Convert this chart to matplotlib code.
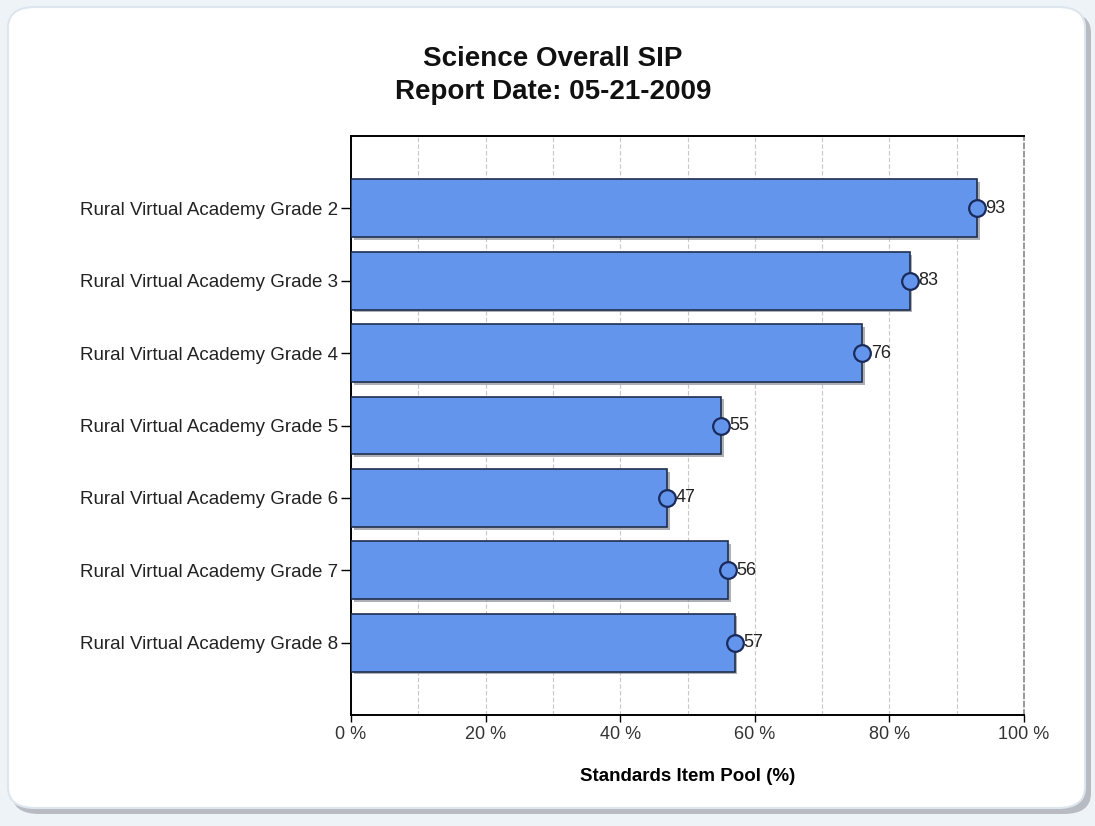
import matplotlib
matplotlib.use("Agg")
import matplotlib.pyplot as plt
from matplotlib.patches import FancyBboxPatch
import matplotlib.patheffects as pe

plt.rcParams['font.family'] = ['Liberation Sans', 'DejaVu Sans']

categories = ["Rural Virtual Academy Grade 2", "Rural Virtual Academy Grade 3",
              "Rural Virtual Academy Grade 4", "Rural Virtual Academy Grade 5",
              "Rural Virtual Academy Grade 6", "Rural Virtual Academy Grade 7",
              "Rural Virtual Academy Grade 8"]
values = [93, 83, 76, 55, 47, 56, 57]
xticks = [0, 20, 40, 60, 80, 100]
xticklabels = ["0 %", "20 %", "40 %", "60 %", "80 %", "100 %"]

W, H = 1095, 826
fig = plt.figure(figsize=(W/100, H/100), dpi=100)
fig.patch.set_facecolor('#eef3f8')

# panel with shadow
shadow = FancyBboxPatch((12/W, 12/H), (W-16)/W, (H-24)/H,
                        boxstyle="round,pad=0,rounding_size=0.025",
                        transform=fig.transFigure, facecolor='#b8bcc2',
                        edgecolor='none', zorder=-2)
fig.patches.append(shadow)
panel = FancyBboxPatch((8/W, 18/H), (W-18)/W, (H-25)/H,
                       boxstyle="round,pad=0,rounding_size=0.025",
                       transform=fig.transFigure, facecolor='white',
                       edgecolor='#dde6ee', linewidth=1.5, zorder=-1)
fig.patches.append(panel)

ax = fig.add_axes([351/W, 1-715/H, (1024-351)/W, (715-136)/H])
ax.set_facecolor('none')

y = list(range(len(categories)))
bars = ax.barh(y, values, height=0.8, color='#6495ED', edgecolor='#1f2f4f',
               linewidth=1.2, zorder=3)
for b in bars:
    b.set_path_effects([pe.SimplePatchShadow(offset=(2, -2), shadow_rgbFace='#8a8f99', alpha=0.7),
                        pe.Normal()])
ax.plot(values, y, 'o', markersize=12, markerfacecolor='#6495ED',
        markeredgecolor='#1a2a5a', markeredgewidth=1.6, zorder=4, linestyle='none')
for v, yy in zip(values, y):
    ax.annotate(str(v), (v, yy), xytext=(6, 0), textcoords='offset points',
                va='center', ha='left', fontsize=13, color='#222222', zorder=5)

ax.set_xlim(0, 100)
ax.set_ylim(7, -1)
ax.set_yticks(y)
ax.set_yticklabels(categories, fontsize=13.5, color='#222222')
ax.set_xticks(xticks)
ax.set_xticklabels(xticklabels, fontsize=13, color='#333333')
ax.set_xticks(range(10, 100, 20), minor=True)
ax.tick_params(axis='x', which='minor', length=0)
ax.tick_params(axis='x', which='major', length=5, width=1, direction='out', pad=3)
ax.tick_params(axis='y', length=7, width=1, direction='out', pad=2)
ax.grid(axis='x', which='both', color='#c8c8c8', linestyle=(0, (4, 2)), linewidth=0.8, zorder=0)
ax.set_axisbelow(True)
for s in ['top', 'left', 'bottom']:
    ax.spines[s].set_color('black')
    ax.spines[s].set_linewidth(1.4)
ax.spines['right'].set_color('#888888')
ax.spines['right'].set_linestyle((0, (3, 2)))
ax.spines['right'].set_linewidth(1.2)

ax.set_xlabel("Standards Item Pool (%)", fontsize=13.5, fontweight='bold', labelpad=18)

fig.text(553/W, 1-59/H, "Science Overall SIP", ha='center', va='center',
         fontsize=20, fontweight='bold', color='#111111')
fig.text(553/W, 1-92/H, "Report Date: 05-21-2009", ha='center', va='center',
         fontsize=20, fontweight='bold', color='#111111')

fig.savefig("out.png", dpi=100, facecolor=fig.get_facecolor())
